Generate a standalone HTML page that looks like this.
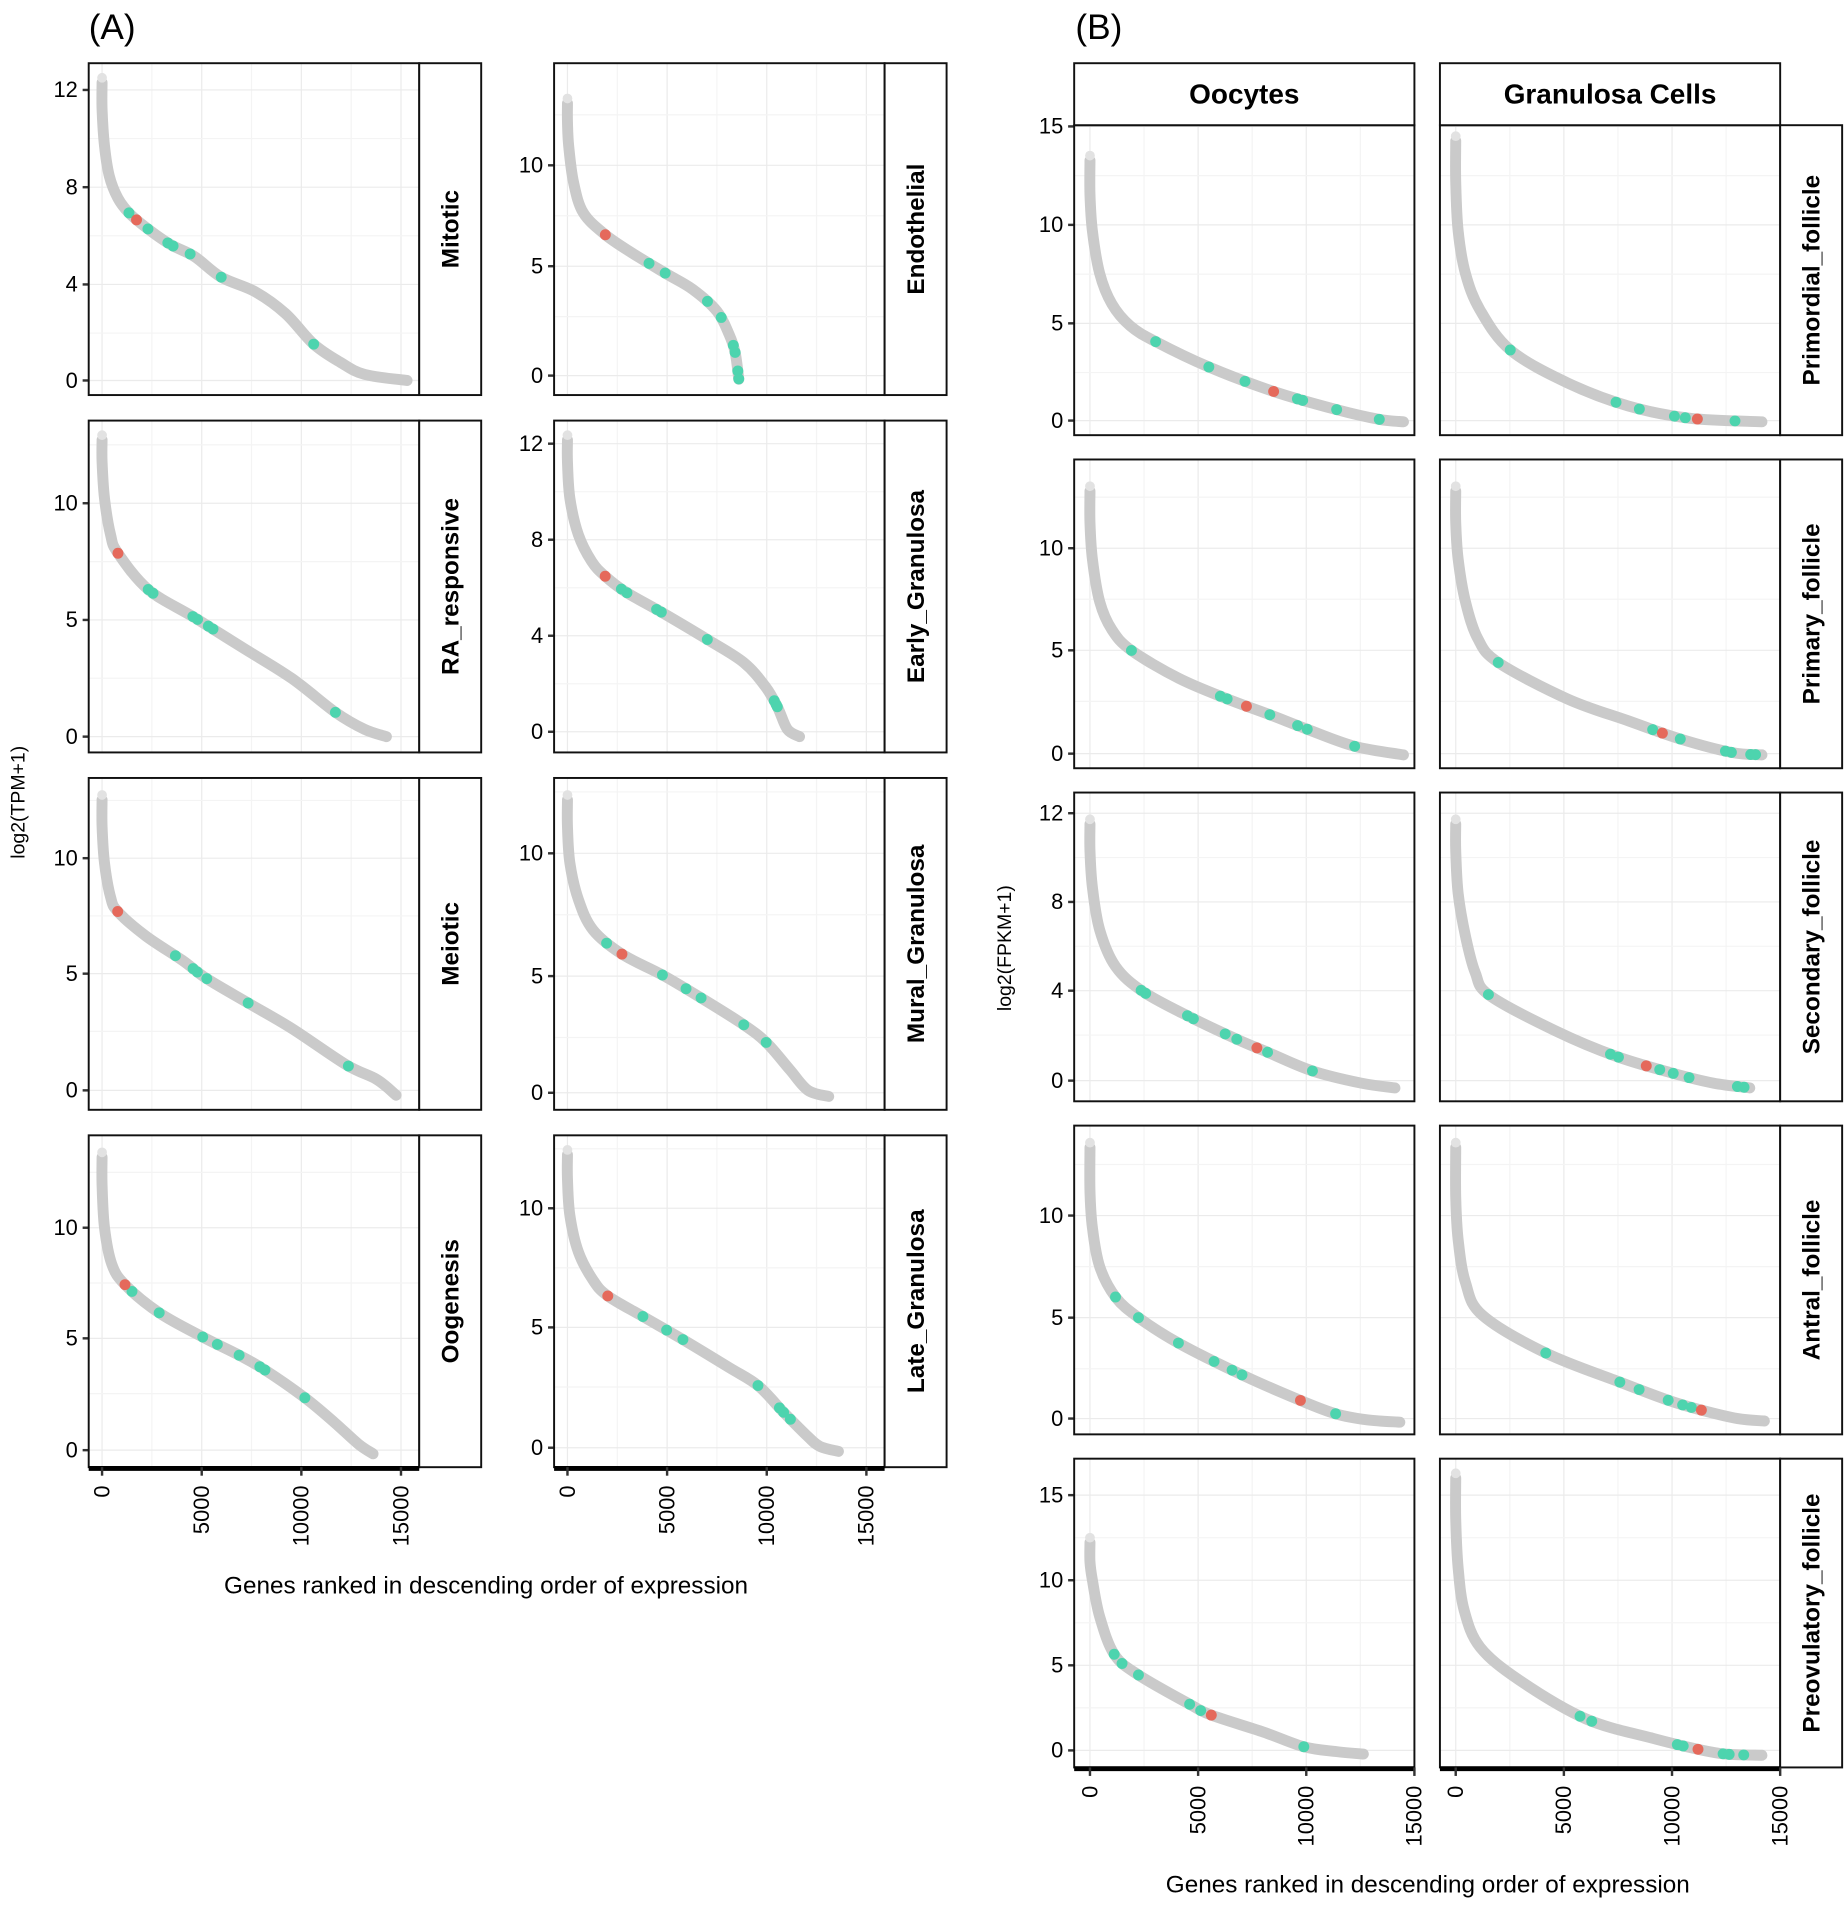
<!DOCTYPE html>
<html><head><meta charset="utf-8">
<style>
html,body{margin:0;padding:0;background:#fff;}
svg{display:block;}
</style></head>
<body>
<svg id="s" xmlns="http://www.w3.org/2000/svg" width="1847" height="1906" viewBox="0 0 1520 1568" preserveAspectRatio="none">
<rect width="1520" height="1568" fill="#fff"/>
<text x="73" y="32" font-family="Liberation Sans Narrow, Liberation Sans, sans-serif" font-size="29">(A)</text>
<text x="885" y="32" font-family="Liberation Sans Narrow, Liberation Sans, sans-serif" font-size="29">(B)</text>
<text transform="translate(20,660) rotate(-90)" text-anchor="middle" font-family="Liberation Sans, sans-serif" font-size="16">log2(TPM+1)</text>
<text transform="translate(832,780) rotate(-90)" text-anchor="middle" font-family="Liberation Sans, sans-serif" font-size="16">log2(FPKM+1)</text>
<text x="400" y="1311" text-anchor="middle" font-family="Liberation Sans Narrow, Liberation Sans, sans-serif" font-size="20">Genes ranked in descending order of expression</text>
<text x="1175" y="1557" text-anchor="middle" font-family="Liberation Sans Narrow, Liberation Sans, sans-serif" font-size="20">Genes ranked in descending order of expression</text>
</svg>
<script>
var S=document.getElementById('s'),NS='http://www.w3.org/2000/svg';
function el(t,a,txt){var e=document.createElementNS(NS,t);for(var k in a)e.setAttribute(k,a[k]);if(txt!==undefined)e.textContent=txt;S.appendChild(e);return e;}
function cr(p){var d='M'+p[0][0]+','+p[0][1];for(var i=0;i<p.length-1;i++){var p0=p[i-1]||p[i],p1=p[i],p2=p[i+1],p3=p[i+2]||p2;
d+=' C'+(p1[0]+(p2[0]-p0[0])/6)+','+(p1[1]+(p2[1]-p0[1])/6)+' '+(p2[0]-(p3[0]-p1[0])/6)+','+(p2[1]-(p3[1]-p1[1])/6)+' '+p2[0]+','+p2[1];}return d;}
var GRAY='#cacaca',TEAL='#4dd4ae',RED='#e5695b';
function snap(path,samples,d){
 var best=null,bd=1e9;
 for(var i=0;i<samples.length;i++){var s=samples[i];var dd=(s[0]-d[0])*(s[0]-d[0])+(s[1]-d[1])*(s[1]-d[1]);if(dd<bd){bd=dd;best=s;}}
 return best||d;
}
function panel(o){
 var x0=o.x0,x1=o.x1,y0=o.y0,y1=o.y1;
 var z=o.zx,pp=(o.zx15-z)/15000;
 for(var v=0;v<=15000;v+=2500){var gx=z+v*pp;if(gx>x0&&gx<x1)el('line',{x1:gx,x2:gx,y1:y0,y2:y1,stroke:(v%5000?'#f4f4f4':'#ebebeb'),'stroke-width':1});}
 var t=o.ticks;
 var step=t.length>1?(t[1][1]-t[0][1]):0;
 for(var i=0;i<t.length;i++){el('line',{x1:x0,x2:x1,y1:t[i][1],y2:t[i][1],stroke:'#ebebeb','stroke-width':1});
  var m=t[i][1]+step/2; if(m>y0&&m<y1)el('line',{x1:x0,x2:x1,y1:m,y2:m,stroke:'#f4f4f4','stroke-width':1});
  var m2=t[i][1]-step/2; if(i==0&&m2>y0&&m2<y1)el('line',{x1:x0,x2:x1,y1:m2,y2:m2,stroke:'#f4f4f4','stroke-width':1});
  if(!o.nolab){
  el('line',{x1:x0-5,x2:x0,y1:t[i][1],y2:t[i][1],stroke:'#333','stroke-width':2});
  el('text',{x:x0-9,y:t[i][1]+6,'text-anchor':'end','font-family':'Liberation Sans Narrow, Liberation Sans, sans-serif','font-size':18},t[i][0]);}}
 var path=el('path',{d:cr(o.c),fill:'none',stroke:GRAY,'stroke-width':9,'stroke-linecap':'round','stroke-linejoin':'round'});
 var samples=[];
 try{var L=path.getTotalLength();for(var l=0;l<=L;l+=0.5){var q=path.getPointAtLength(l);samples.push([q.x,q.y]);}}catch(e){}
 el('circle',{cx:o.c[0][0],cy:o.c[0][1]-4,r:4,fill:'#e2e2e2'});
 (o.t||[]).forEach(function(p){var q=snap(path,samples,p);el('circle',{cx:q[0],cy:q[1],r:4.5,fill:TEAL});});
 (o.r||[]).forEach(function(p){var q=snap(path,samples,p);el('circle',{cx:q[0],cy:q[1],r:4.5,fill:RED});});
 el('rect',{x:x0,y:y0,width:x1-x0,height:y1-y0,fill:'none',stroke:'#111','stroke-width':1.6});
 if(o.strip){var sw=51;el('rect',{x:x1,y:y0,width:sw,height:y1-y0,fill:'#fff',stroke:'#111','stroke-width':1.6});
  el('text',{transform:'translate('+(x1+sw/2+7)+','+((y0+y1)/2)+') rotate(-90)','text-anchor':'middle','font-family':'Liberation Sans, sans-serif','font-weight':'bold','font-size':20},o.strip);}
 if(o.xaxis){el('line',{x1:x0,x2:x1,y1:y1+1,y2:y1+1,stroke:'#000','stroke-width':4});
  for(var v=0;v<=15000;v+=5000){var gx=z+v*pp;el('line',{x1:gx,x2:gx,y1:y1,y2:y1+7,stroke:'#333','stroke-width':2});
   el('text',{transform:'translate('+(gx+6)+','+(y1+15)+') rotate(-90)','text-anchor':'end','font-family':'Liberation Sans, sans-serif','font-size':18},String(v));}}
}
var A1x=[73,345,84,330],A2x=[456,728,467,713],B1x=[884,1164,897,1164],B2x=[1185,1465,1198,1465];
function P(xx,y0,y1,ticks,c,t,r,strip,xaxis){panel({x0:xx[0],x1:xx[1],zx:xx[2],zx15:xx[3],y0:y0,y1:y1,ticks:ticks,c:c,t:t,r:r,strip:strip,xaxis:xaxis,nolab:(xx===B2x)});}
// A
P(A1x,52,325,[[12,74],[8,154],[4,234],[0,313]],[[84,68],[84,90],[86,120],[90,145],[97,163],[106,175],[120,187],[140,201],[160,211],[182,228],[210,240],[235,258],[258,283],[280,298],[300,308],[335,313]],
 [[106,175],[122,188],[138,200],[142,203],[155,212],[182,228],[258,283]],[[113,180]],'Mitotic');
P(A2x,52,325,[[10,136],[5,219],[0,309]],[[467,85],[467,100],[468,120],[472,150],[480,175],[498,193],[520,208],[548,225],[570,238],[590,256],[600,275],[605,290],[608,312]],
 [[535,215],[548,224],[583,247],[594,261],[604,284],[605,290],[608,305],[608,313]],[[498,193]],'Endothelial');
P(A1x,346,619,[[10,414],[5,510],[0,606]],[[84,362],[84,380],[86,410],[91,440],[97,455],[122,485],[160,508],[200,533],[240,558],[276,586],[300,600],[318,606]],
 [[122,485],[126,488],[158,508],[162,510],[171,516],[175,518],[276,586]],[[97,455]],'RA_responsive');
P(A2x,346,619,[[12,365],[8,444],[4,523],[0,602]],[[467,362],[467,380],[469,410],[476,440],[487,462],[498,474],[515,487],[545,504],[582,526],[612,545],[630,565],[640,582],[648,600],[658,606]],
 [[511,485],[516,488],[540,502],[544,504],[582,526],[638,576],[640,579],[641,581]],[[498,474]],'Early_Granulosa');
P(A1x,640,913,[[10,706],[5,801],[0,897]],[[84,658],[84,680],[86,710],[91,738],[97,750],[120,770],[150,790],[170,805],[204,825],[240,846],[285,876],[310,888],[326,901]],
 [[142,790],[158,798],[162,800],[170,805],[204,825],[285,880]],[[97,750]],'Meiotic');
P(A2x,640,913,[[10,702],[5,803],[0,899]],[[467,658],[467,680],[469,710],[476,740],[488,765],[512,785],[545,802],[577,821],[612,843],[631,858],[650,880],[665,897],[682,902]],
 [[500,775],[545,802],[565,813],[577,821],[612,843],[631,857]],[[512,785]],'Mural_Granulosa');
P(A1x,934,1207,[[10,1010],[5,1101],[0,1193]],[[84,952],[84,975],[86,1010],[92,1040],[103,1057],[131,1080],[167,1100],[197,1115],[218,1127],[251,1150],[275,1170],[295,1188],[307,1196]],
 [[108,1063],[131,1080],[167,1100],[179,1106],[197,1115],[214,1124],[218,1127],[251,1150]],[[103,1057]],'Oogenesis',true);
P(A2x,934,1207,[[10,994],[5,1092],[0,1191]],[[467,950],[467,970],[469,1000],[476,1030],[488,1053],[500,1066],[529,1083],[562,1102],[600,1125],[624,1140],[645,1162],[665,1182],[675,1190],[690,1194]],
 [[529,1083],[549,1094],[562,1102],[624,1140],[642,1158],[645,1162],[652,1166]],[[500,1066]],'Late_Granulosa',true);
// B
var T1=[[15,104],[10,185],[5,266],[0,346]],T2=[[10,451],[5,535],[0,620]],T3=[[12,669],[8,742],[4,815],[0,889]],T4=[[10,1000],[5,1084],[0,1167]],T5=[[15,1230],[10,1300],[5,1370],[0,1440]];
P(B1x,103,358,T1,[[897,132],[897,160],[899,190],[905,225],[915,250],[930,268],[951,281],[995,302],[1048,322],[1100,337],[1135,345],[1155,347]],
 [[951,281],[995,302],[1025,313],[1068,327],[1072,329],[1100,337],[1135,345]],[[1048,322]]);
P(B2x,103,358,T1,[[1198,116],[1198,150],[1200,190],[1206,225],[1218,255],[1243,288],[1290,315],[1340,334],[1390,344],[1450,347]],
 [[1243,288],[1330,331],[1349,337],[1378,343],[1387,344],[1428,347]],[[1397,345]],'Primordial_follicle');
P(B1x,378,632,T2,[[897,404],[897,430],[899,460],[905,495],[915,518],[931,535],[970,558],[1010,575],[1045,588],[1076,600],[1115,614],[1155,621]],
 [[931,535],[1004,573],[1010,575],[1045,588],[1068,597],[1076,600],[1115,614]],[[1026,581]]);
P(B2x,378,632,T2,[[1198,404],[1198,430],[1200,460],[1206,495],[1216,525],[1233,545],[1290,575],[1340,593],[1383,608],[1425,619],[1450,621]],
 [[1233,545],[1360,601],[1383,608],[1420,618],[1425,619],[1441,620],[1445,620]],[[1368,603]],'Primary_follicle');
P(B1x,652,906,T3,[[897,678],[897,700],[899,730],[905,765],[918,795],[941,816],[980,837],[1018,855],[1044,866],[1080,881],[1120,891],[1148,895]],
 [[939,815],[943,817],[977,836],[982,838],[1008,851],[1018,855],[1044,863],[1080,881]],[[1035,861]]);
P(B2x,652,906,T3,[[1198,678],[1198,700],[1200,735],[1206,770],[1214,800],[1226,819],[1280,848],[1330,869],[1377,883],[1410,891],[1440,895]],
 [[1224,819],[1325,868],[1332,869],[1366,880],[1377,883],[1390,886],[1430,894],[1435,895]],[[1355,877]],'Secondary_follicle');
P(B1x,926,1180,T4,[[897,944],[897,980],[899,1010],[905,1042],[918,1067],[937,1084],[970,1105],[1022,1131],[1070,1152],[1099,1163],[1125,1168],[1152,1170]],
 [[918,1067],[937,1084],[970,1105],[999,1120],[1014,1127],[1022,1131],[1099,1163]],[[1070,1152]]);
P(B2x,926,1180,T4,[[1198,944],[1198,985],[1200,1020],[1206,1055],[1220,1082],[1272,1113],[1333,1137],[1373,1152],[1400,1160],[1430,1167],[1452,1169]],
 [[1272,1113],[1333,1137],[1349,1143],[1373,1152],[1385,1155],[1392,1157]],[[1400,1160]],'Antral_follicle');
P(B1x,1200,1454,T5,[[897,1269],[897,1285],[899,1300],[905,1330],[917,1361],[937,1378],[979,1402],[997,1411],[1040,1425],[1073,1437],[1100,1441],[1122,1443]],
 [[917,1361],[925,1367],[937,1378],[979,1402],[989,1406],[1073,1437]],[[997,1411]],null,true);
P(B2x,1200,1454,T5,[[1198,1216],[1198,1250],[1200,1290],[1205,1325],[1218,1355],[1250,1382],[1305,1414],[1360,1430],[1397,1439],[1420,1443],[1450,1444]],
 [[1300,1413],[1310,1416],[1380,1436],[1385,1437],[1418,1443],[1423,1443],[1435,1443]],[[1397,1440]],'Preovulatory_follicle',true);
[[884,1164,'Oocytes'],[1185,1465,'Granulosa Cells']].forEach(function(s){
 el('rect',{x:s[0],y:52,width:s[1]-s[0],height:51,fill:'#fff',stroke:'#111','stroke-width':1.6});
 el('text',{x:(s[0]+s[1])/2,y:85,'text-anchor':'middle','font-family':'Liberation Sans Narrow, Liberation Sans, sans-serif','font-weight':'bold','font-size':23},s[2]);});
</script>
</body></html>
